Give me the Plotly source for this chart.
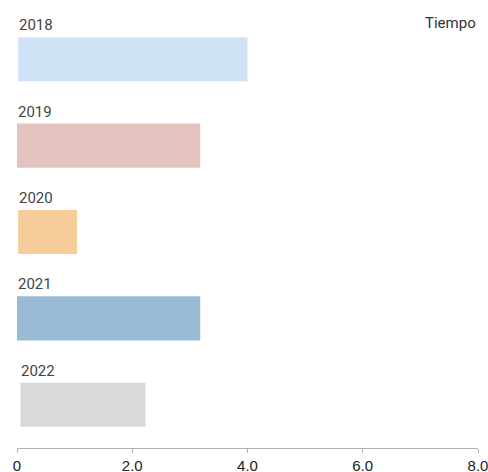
import plotly.graph_objects as go

years = ["2018", "2019", "2020", "2021", "2022"]
values = [4.0, 3.18, 1.04, 3.18, 2.23]
starts = [0.02, 0.0, 0.02, 0.0, 0.06]
colors = ["#cfe2f6", "#e2c3be", "#f5cd99", "#98bbd6", "#d9d9d9"]
tick_vals = [0, 2, 4, 6, 8]
tick_text = ["0", "2.0", "4.0", "6.0", "8.0"]
title_text = "Tiempo"

positions = list(range(len(years)))

fig = go.Figure()
fig.add_trace(go.Bar(
    y=positions,
    x=[v - s for v, s in zip(values, starts)],
    base=starts,
    orientation="h",
    width=0.51,
    marker=dict(color=colors, line=dict(width=0)),
    customdata=years,
    hovertemplate="%{customdata}: %{x}<extra></extra>",
))

for p, yr, s in zip(positions, years, starts):
    fig.add_annotation(
        x=s, y=p, xref="x", yref="y",
        text=yr, showarrow=False,
        xanchor="left", yanchor="middle", yshift=34, xshift=-1,
        font=dict(family="Roboto", size=15, color="#444444"),
    )

fig.add_annotation(
    x=1.0, y=1.0, xref="paper", yref="paper", yanchor="middle", yshift=-7,
    text=title_text, showarrow=False, xanchor="right",
    font=dict(family="Roboto", size=15, color="#333333"),
)

fig.update_layout(
    width=488, height=472,
    margin=dict(l=17, r=10, t=16, b=24, autoexpand=False),
    paper_bgcolor="white", plot_bgcolor="white",
    showlegend=False,
    xaxis=dict(
        range=[0, 8], tickvals=tick_vals, ticktext=tick_text,
        showgrid=False, zeroline=False,
        showline=True, linecolor="#b0b0b0", linewidth=1,
        ticks="outside", ticklen=4, tickcolor="#b0b0b0",
        tickfont=dict(family="Liberation Sans", size=15, color="#222222"),
        ticklabeloverflow="allow",
    ),
    yaxis=dict(
        range=[len(years) - 0.5, -0.5],
        showticklabels=False, showgrid=False, zeroline=False, showline=False,
        ticks="",
    ),
)

fig.write_html(
    "out.html",
    config={"displayModeBar": False},
    post_script="document.body.style.margin='0';document.body.style.overflow='hidden';",
)
